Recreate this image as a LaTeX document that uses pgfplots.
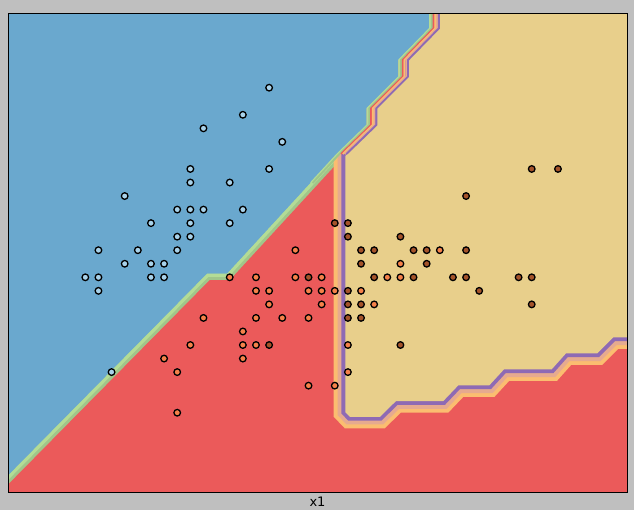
\documentclass[border=0pt]{standalone}
\usepackage{pgfplots}
\usepackage{pgfplotstable}
\pgfplotsset{compat=1.18}
\usepackage{fontspec}
\setmainfont{DejaVu Sans}
\definecolor{figbg}{HTML}{BFBFBF}
\definecolor{regblue}{HTML}{6AA8CE}
\definecolor{regred}{HTML}{EB5A5A}
\definecolor{regyel}{HTML}{E8CF8B}
\definecolor{bandlg}{HTML}{B3DC96}
\definecolor{bandg}{HTML}{A0C68A}
\definecolor{bandor}{HTML}{FBBD70}
\definecolor{bandsa}{HTML}{E6AA8F}
\definecolor{bandpu}{HTML}{8E6AB4}
\definecolor{ptblue}{HTML}{A8D2EA}
\definecolor{ptorange}{HTML}{F5814A}
\definecolor{ptbrown}{HTML}{A4532A}

% region of class 0 (upper left)
\pgfplotstableread{
x y
3.4979 1.3298
5.2268 3.0292
5.3791 3.0292
6.2146 3.9103
6.4431 4.1245
6.4431 4.2479
6.6838 4.4812
6.6838 4.6046
6.9198 4.8387
6.9198 5.1216
3.4979 5.1216
3.4979 1.3298
}\polyB
% region of class 2 (right)
\pgfplotstableread{
x y
7.0000 5.1216
7.0000 4.8387
6.7637 4.6046
6.7637 4.4812
6.5231 4.2479
6.5231 4.1245
6.2801 3.8956
6.2801 2.0049
6.3144 1.9702
6.5444 1.9702
6.6662 2.0861
7.0265 2.0861
7.1407 2.2021
7.3768 2.2021
7.4888 2.3202
7.8521 2.3202
7.9610 2.4384
8.1994 2.4384
8.3212 2.5566
8.6007 2.5566
8.6007 5.1216
7.0000 5.1216
}\polyY
% upper boundary (class 0 / class 2)
\pgfplotstableread{
x y
6.9198 5.1216
6.9198 4.8387
6.6838 4.6046
6.6838 4.4812
6.4431 4.2479
6.4431 4.1245
6.2146 3.9103
6.0113 3.6962
}\bndLong
\pgfplotstableread{
x y
6.9198 5.1216
6.9198 4.8387
6.6838 4.6046
6.6838 4.4812
6.4431 4.2479
6.4431 4.1245
6.2146 3.9103
}\bndShort

\pgfplotstableread{
x y
5.7 4.4
5.5 4.2
5.2 4.1
5.8 4.0
5.1 3.8
5.7 3.8
5.1 3.7
5.4 3.7
4.6 3.6
5.0 3.5
5.1 3.5
5.2 3.5
5.5 3.5
4.8 3.4
5.1 3.4
5.4 3.4
5.0 3.3
5.1 3.3
4.4 3.2
4.7 3.2
5.0 3.2
4.6 3.1
4.8 3.1
4.9 3.1
4.3 3.0
4.4 3.0
4.8 3.0
4.9 3.0
4.4 2.9
4.5 2.3
}\setosa
\pgfplotstableread{
x y
5.9 3.2
5.4 3.0
5.6 3.0
5.9 3.0
6.1 3.0
5.6 2.9
5.7 2.9
6.0 2.9
6.1 2.9
6.2 2.9
5.7 2.8
6.1 2.8
5.2 2.7
5.6 2.7
5.8 2.7
6.0 2.7
5.5 2.6
5.1 2.5
5.5 2.5
5.6 2.5
4.9 2.4
5.5 2.4
5.0 2.3
6.0 2.2
6.2 2.2
5.0 2.0
7.0 3.2
6.7 3.1
6.6 3.0
6.7 3.0
6.4 2.9
6.5 2.8
6.3 2.5
6.3 2.3
}\versicolor
\pgfplotstableread{
x y
6.0 3.0
5.7 2.5
7.7 3.8
7.9 3.8
7.2 3.6
6.2 3.4
6.3 3.4
6.3 3.3
6.7 3.3
6.4 3.2
6.5 3.2
6.8 3.2
6.9 3.2
7.2 3.2
6.4 3.1
6.9 3.1
6.5 3.0
6.8 3.0
7.1 3.0
7.2 3.0
7.6 3.0
7.7 3.0
6.3 2.9
7.3 2.9
6.3 2.8
6.4 2.8
7.7 2.8
6.3 2.7
6.4 2.7
6.7 2.5
}\virginica

\begin{document}
\begin{tikzpicture}
\path[use as bounding box] (0pt,0pt) rectangle (634pt,510pt);
\fill[figbg] (0pt,0pt) rectangle (634pt,510pt);
\begin{axis}[
  at={(8.5pt,17.5pt)}, anchor=south west,
  scale only axis, width=619pt, height=479pt,
  xmin=3.715, xmax=8.4295, ymin=1.411, ymax=4.948,
  xtick=\empty, ytick=\empty,
  axis line style={line width=1.3pt, draw=black},
  axis background/.style={fill=regred},
  axis on top,
]
% bands along class 0 / class 1 boundary
\addplot[draw=bandg, line width=13pt, line join=miter, forget plot] table {\polyB};
\addplot[draw=bandlg, line width=7pt, line join=miter, forget plot] table {\polyB};
\addplot[fill=regblue, draw=none, forget plot] table {\polyB};
% bands along class 1 / class 2 boundary
\addplot[draw=bandor, line width=23.2pt, line join=miter, forget plot] table {\polyY};
\addplot[draw=bandsa, line width=15.4pt, line join=miter, forget plot] table {\polyY};
\addplot[draw=bandpu, line width=7.6pt, line join=miter, forget plot] table {\polyY};
\addplot[fill=regyel, draw=none, forget plot] table {\polyY};
\addplot[fill=regblue, draw=none, forget plot] table {\polyB};
% bands along class 0 / class 2 boundary
\addplot[draw=bandlg, line width=1.9pt, xshift=0.9pt, forget plot] table {\bndLong};
\addplot[draw=bandg, line width=1.9pt, xshift=2.65pt, forget plot] table {\bndLong};
\addplot[draw=regred, line width=1.9pt, xshift=4.4pt, forget plot] table {\bndShort};
\addplot[draw=bandor, line width=1.9pt, xshift=6.15pt, forget plot] table {\bndShort};
\addplot[draw=bandsa, line width=1.9pt, xshift=7.9pt, forget plot] table {\bndShort};
\addplot[draw=bandpu, line width=1.9pt, xshift=9.65pt, forget plot] table {\bndShort};
% training points
\addplot[only marks, mark=*, mark size=3.3pt, mark options={fill=ptblue, draw=black, line width=1.3pt}] table {\setosa};
\addplot[only marks, mark=*, mark size=3.3pt, mark options={fill=ptorange, draw=black, line width=1.3pt}] table {\versicolor};
\addplot[only marks, mark=*, mark size=3.3pt, mark options={fill=ptbrown, draw=black, line width=1.3pt}] table {\virginica};
\end{axis}
\node[anchor=base, font=\fontsize{13}{15}\selectfont, inner sep=0pt] at (317.5pt,3.5pt) {x1};
\end{tikzpicture}
\end{document}
